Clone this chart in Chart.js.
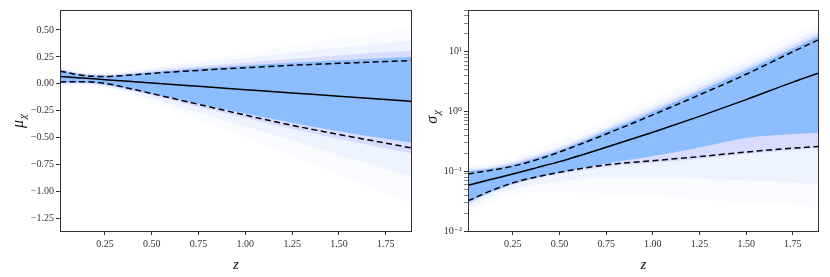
<!DOCTYPE html>
<html>
<head>
<meta charset="utf-8">
<script src="https://cdn.jsdelivr.net/npm/chart.js@4"></script>
<style>
    html, body { margin: 0; padding: 0; background: #fff; }
    #wrap { position: relative; width: 830px; height: 277px; }
    canvas { position: absolute; top: 0; }
</style>
</head>
<body>
<div id="wrap">
    <canvas id="muChart" width="415" height="277" style="left:0"></canvas>
    <canvas id="sigmaChart" width="415" height="277" style="left:415px"></canvas>
</div>
<script>
// redshift grid the curves are read at
const zGrid = [0.01, 0.125, 0.25, 0.375, 0.5, 0.75, 1.0, 1.25, 1.5, 1.75, 1.89];
const zTicks = [0.25, 0.5, 0.75, 1.0, 1.25, 1.5, 1.75];

// left panel: mu_chi
const muMean  = [0.068, 0.054, 0.039, 0.024, 0.008, -0.023, -0.054, -0.085, -0.115, -0.146, -0.163];
const muUpper = [0.118, 0.080, 0.068, 0.080, 0.097, 0.125, 0.150, 0.172, 0.190, 0.207, 0.216];
const muLower = [0.018, 0.020, 0.004, -0.040, -0.090, -0.190, -0.290, -0.385, -0.470, -0.550, -0.595];
const muCoreHi  = [0.130, 0.088, 0.075, 0.090, 0.108, 0.142, 0.170, 0.196, 0.218, 0.240, 0.252];
const muCoreLo  = [0.008, 0.011, -0.006, -0.046, -0.092, -0.185, -0.275, -0.360, -0.440, -0.510, -0.545];
const muMidHi   = [0.140, 0.095, 0.083, 0.100, 0.120, 0.160, 0.195, 0.230, 0.262, 0.295, 0.308];
const muMidLo   = [0.002, 0.005, -0.015, -0.058, -0.108, -0.215, -0.318, -0.420, -0.512, -0.600, -0.645];
const muOuterHi = [0.148, 0.102, 0.092, 0.112, 0.138, 0.190, 0.238, 0.288, 0.338, 0.380, 0.400];
const muOuterLo = [-0.006, -0.004, -0.024, -0.075, -0.135, -0.265, -0.395, -0.525, -0.660, -0.790, -0.860];
const muFaintHi = [0.160, 0.110, 0.100, 0.125, 0.155, 0.220, 0.280, 0.350, 0.420, 0.480, 0.520];
const muFaintLo = [-0.020, -0.015, -0.035, -0.090, -0.170, -0.330, -0.500, -0.670, -0.850, -1.020, -1.120];
const muTicks = [-1.25, -1.0, -0.75, -0.5, -0.25, 0, 0.25, 0.5];

// right panel: sigma_chi (log axis)
const sigMean  = [0.058, 0.072, 0.090, 0.114, 0.145, 0.252, 0.45, 0.83, 1.58, 3.1, 4.4];
const sigUpper = [0.090, 0.103, 0.121, 0.155, 0.210, 0.42, 0.88, 1.9, 4.2, 10, 16];
const sigLower = [0.032, 0.046, 0.064, 0.080, 0.096, 0.128, 0.150, 0.176, 0.21, 0.243, 0.26];
const sigCoreHi  = [0.100, 0.110, 0.130, 0.168, 0.225, 0.47, 1.0, 2.2, 4.9, 11.5, 18.5];
const sigCoreLo  = [0.030, 0.044, 0.061, 0.078, 0.095, 0.135, 0.18, 0.25, 0.36, 0.42, 0.44];
const sigMidHi   = [0.106, 0.116, 0.140, 0.182, 0.245, 0.52, 1.12, 2.5, 5.5, 13, 21];
const sigMidLo   = [0.028, 0.042, 0.059, 0.075, 0.090, 0.118, 0.138, 0.162, 0.195, 0.225, 0.245];
const sigOuterHi = [0.115, 0.125, 0.150, 0.200, 0.270, 0.58, 1.3, 2.9, 6.5, 15, 25];
const sigOuterLo = [0.024, 0.036, 0.050, 0.060, 0.068, 0.078, 0.078, 0.075, 0.070, 0.065, 0.060];
const sigFaintHi = [0.130, 0.140, 0.170, 0.230, 0.320, 0.70, 1.6, 3.6, 8, 19, 30];
const sigFaintLo = [0.020, 0.030, 0.040, 0.045, 0.045, 0.042, 0.038, 0.034, 0.030, 0.027, 0.025];
const sigMajorTicks = [0.01, 0.1, 1, 10];
const sigTickLabels = ['10\u207B\u00B2', '10\u207B\u00B9', '10\u2070', '10\u00B9'];
const sigMinorSteps = [2, 3, 4, 5, 6, 7, 8, 9];

const FONT = '"Liberation Serif", "DejaVu Serif", serif';

function pts(ys) {
    return ys.map((y, i) => ({ x: zGrid[i], y: y }));
}

function band(hi, lo, color) {
    return [
        { data: pts(hi), fill: '+1', backgroundColor: color, borderColor: 'transparent',
          borderWidth: 0, pointRadius: 0, cubicInterpolationMode: 'monotone' },
        { data: pts(lo), fill: false, borderColor: 'transparent',
          borderWidth: 0, pointRadius: 0, cubicInterpolationMode: 'monotone' }
    ];
}

function line(ys, dashed) {
    return {
        data: pts(ys), fill: false, borderColor: '#000', borderWidth: 1.5,
        borderDash: dashed ? [6, 3.5] : [], pointRadius: 0, cubicInterpolationMode: 'monotone'
    };
}

// frame on all four sides + axis titles with subscript
const framePlugin = {
    id: 'frame',
    afterDatasetsDraw(chart) {
        const a = chart.chartArea, ctx = chart.ctx;
        ctx.save();
        ctx.strokeStyle = '#333';
        ctx.lineWidth = 1;
        ctx.strokeRect(a.left + 0.5, a.top + 0.5, a.right - a.left - 1, a.bottom - a.top);
        ctx.restore();
    }
};

const titlePlugin = {
    id: 'axisTitles',
    afterDraw(chart, args, opts) {
        const ctx = chart.ctx, a = chart.chartArea;
        ctx.save();
        ctx.fillStyle = '#111';
        ctx.textBaseline = 'alphabetic';
        ctx.textAlign = 'center';
        ctx.font = 'italic 15px ' + FONT;
        ctx.fillText(opts.x, (a.left + a.right) / 2, opts.xBase);

        ctx.translate(opts.yBase, opts.yCenter);
        ctx.rotate(-Math.PI / 2);
        ctx.textAlign = 'left';
        ctx.font = 'italic 16px ' + FONT;
        const w1 = ctx.measureText(opts.y[0]).width;
        ctx.font = 'italic 11px ' + FONT;
        const w2 = ctx.measureText(opts.y[1]).width;
        const start = -(w1 + w2 + 1) / 2;
        ctx.font = 'italic 16px ' + FONT;
        ctx.fillText(opts.y[0], start, 0);
        ctx.font = 'italic 11px ' + FONT;
        ctx.fillText(opts.y[1], start + w1 + 1, 3);
        ctx.restore();
    }
};

const tickFont = { family: FONT, size: 10 };

function xScale() {
    return {
        type: 'linear', min: 0.01, max: 1.89,
        afterBuildTicks: s => { s.ticks = zTicks.map(v => ({ value: v })); },
        afterFit: s => { s.height = 46; },
        ticks: { font: tickFont, color: '#333', padding: 3, maxRotation: 0, autoSkip: false,
                 callback: v => v.toFixed(2) },
        grid: { drawOnChartArea: false, tickLength: 4, color: '#333' },
        border: { display: false }
    };
}

const CORE = 'rgb(140,190,255)';
const MID = 'rgba(170,170,255,0.3)';
const OUTER = 'rgba(185,210,255,0.2)';
const FAINT = 'rgba(215,228,255,0.14)';

new Chart(document.getElementById('muChart'), {
    type: 'line',
    data: {
        datasets: [
            line(muMean, false), line(muUpper, true), line(muLower, true),
            ...band(muCoreHi, muCoreLo, CORE),
            ...band(muMidHi, muMidLo, MID),
            ...band(muOuterHi, muOuterLo, OUTER),
            ...band(muFaintHi, muFaintLo, FAINT)
        ]
    },
    options: {
        responsive: false,
        animation: false,
        layout: { padding: { top: 10, right: 3, left: 0, bottom: 0 } },
        scales: {
            x: xScale(),
            y: {
                type: 'linear', min: -1.365, max: 0.685,
                afterBuildTicks: s => { s.ticks = muTicks.map(v => ({ value: v })); },
                afterFit: s => { s.width = 60; },
                ticks: { font: tickFont, color: '#333', padding: 2, autoSkip: false,
                         callback: v => v.toFixed(2).replace('-', '\u2212') },
                grid: { drawOnChartArea: false, tickLength: 4, color: '#333' },
                border: { display: false }
            }
        },
        plugins: {
            legend: { display: false },
            tooltip: { enabled: false },
            axisTitles: { x: 'z', xBase: 269, y: ['\u03BC', '\u03C7'], yBase: 23, yCenter: 121 }
        }
    },
    plugins: [framePlugin, titlePlugin]
});

const sigTickValues = [];
sigMajorTicks.forEach(m => {
    sigTickValues.push(m);
    sigMinorSteps.forEach(k => sigTickValues.push(m * k));
});

new Chart(document.getElementById('sigmaChart'), {
    type: 'line',
    data: {
        datasets: [
            line(sigMean, false), line(sigUpper, true), line(sigLower, true),
            ...band(sigCoreHi, sigCoreLo, CORE),
            ...band(sigMidHi, sigMidLo, MID),
            ...band(sigOuterHi, sigOuterLo, OUTER),
            ...band(sigFaintHi, sigFaintLo, FAINT)
        ]
    },
    options: {
        responsive: false,
        animation: false,
        layout: { padding: { top: 10, right: 11, left: 0, bottom: 0 } },
        scales: {
            x: xScale(),
            y: {
                type: 'logarithmic', min: 0.01, max: 50,
                afterBuildTicks: s => { s.ticks = sigTickValues.filter(v => v <= 50).map(v => ({ value: v })); },
                afterFit: s => { s.width = 53; },
                ticks: {
                    font: tickFont, color: '#333', padding: 2, autoSkip: false,
                    callback: v => {
                        const i = sigMajorTicks.findIndex(m => Math.abs(m - v) / m < 1e-6);
                        return i >= 0 ? sigTickLabels[i] : '';
                    }
                },
                grid: {
                    drawOnChartArea: false, tickLength: 4, color: '#333',
                    tickWidth: c => (c.tick && sigMajorTicks.some(m => Math.abs(m - c.tick.value) / m < 1e-6)) ? 1 : 0.6
                },
                border: { display: false }
            }
        },
        plugins: {
            legend: { display: false },
            tooltip: { enabled: false },
            axisTitles: { x: 'z', xBase: 269, y: ['\u03C3', '\u03C7'], yBase: 22, yCenter: 117 }
        }
    },
    plugins: [framePlugin, titlePlugin]
});
</script>
</body>
</html>
